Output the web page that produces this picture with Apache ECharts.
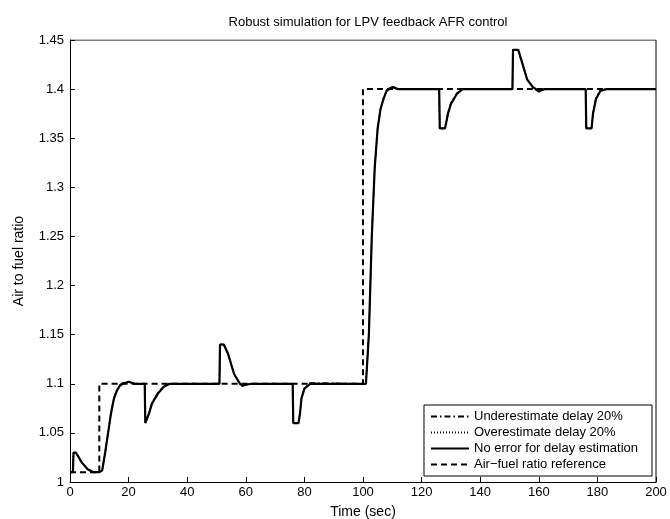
<!DOCTYPE html><html><head><meta charset="utf-8"><script src="https://cdn.jsdelivr.net/npm/echarts@6/dist/echarts.min.js"></script></head><body style="margin:0;background:#fff"><div id="c" style="width:670px;height:519px"></div><script>
const noErr=[[0,1.01],[1,1.01],[1.2,1.03],[2,1.03],[4,1.02],[6,1.013],[8,1.01],[10,1.01],[11,1.012],[12,1.03],[13,1.05],[14,1.07],[15,1.085],[16,1.093],[17,1.098],[18,1.1],[20,1.102],[22,1.1],[25.5,1.1],[25.7,1.06],[26.3,1.06],[27,1.07],[28,1.08],[30,1.09],[32,1.097],[34,1.1],[51,1.1],[51.2,1.14],[52.5,1.14],[54,1.13],[56,1.11],[58,1.1],[59,1.098],[60,1.099],[62,1.1],[76,1.1],[76.2,1.06],[78,1.06],[78.5,1.07],[79,1.085],[80,1.095],[82,1.1],[101,1.1],[102,1.15],[103,1.25],[104,1.32],[105,1.36],[106,1.38],[107,1.39],[108,1.398],[110,1.402],[112,1.4],[126,1.4],[126.2,1.36],[128,1.36],[129,1.375],[130,1.385],[132,1.395],[134,1.4],[151,1.4],[151.2,1.44],[153,1.44],[154,1.43],[156,1.41],[158,1.402],[160,1.398],[162,1.4],[176,1.4],[176.2,1.36],[178,1.36],[178.5,1.375],[179.5,1.39],[181,1.398],[183,1.4],[200,1.4]];
const under=[[0,1.01],[1,1.01],[1.2,1.03],[2,1.03],[4,1.02],[6,1.013],[8,1.01],[10,1.01],[11,1.012],[12,1.03],[13,1.05],[14,1.07],[15,1.086],[16,1.094],[17,1.099],[18,1.101],[20,1.102],[22,1.1],[25.5,1.1],[25.7,1.06],[26.3,1.06],[27,1.071],[28,1.081],[30,1.091],[32,1.098],[34,1.1],[51,1.1],[51.2,1.14],[52.5,1.14],[54,1.13],[56,1.11],[58,1.1],[59,1.097],[60,1.099],[62,1.1],[76,1.1],[76.2,1.06],[78,1.06],[78.5,1.07],[79,1.086],[80,1.096],[82,1.101],[101,1.1],[102,1.15],[103,1.25],[104,1.32],[105,1.36],[106,1.38],[107,1.391],[108,1.399],[110,1.403],[112,1.4],[126,1.4],[126.2,1.36],[128,1.36],[129,1.376],[130,1.386],[132,1.396],[134,1.4],[151,1.4],[151.2,1.44],[153,1.44],[154,1.43],[156,1.41],[158,1.401],[160,1.397],[162,1.4],[176,1.4],[176.2,1.36],[178,1.36],[178.5,1.376],[179.5,1.391],[181,1.399],[183,1.4],[200,1.4]];
const over=noErr;
const ref=[[0,1.01],[10,1.01],[10,1.1],[100,1.1],[100,1.4],[200,1.4]];
const names=['Underestimate delay 20%','Overestimate delay 20%','No error for delay estimation','Air\u2212fuel ratio reference'];
const ff='Liberation Sans, Arial, sans-serif';
const ls=(t,w)=>({color:'#000',width:w,type:t});
echarts.init(document.getElementById('c')).setOption({
animation:false,
title:{text:'Robust simulation for LPV feedback AFR control',left:363,top:11,textAlign:'center',textStyle:{fontFamily:ff,fontSize:13,fontWeight:'normal',color:'#000'}},
grid:{left:70,right:14,top:40,bottom:37,outerBoundsMode:'none',containLabel:false},
xAxis:{type:'value',min:0,max:200,interval:20,name:'Time (sec)',nameLocation:'middle',nameGap:23,nameTextStyle:{fontFamily:ff,fontSize:14,color:'#000'},axisLine:{lineStyle:{color:'#000'}},axisTick:{inside:true,length:5,lineStyle:{color:'#000'}},axisLabel:{fontFamily:ff,fontSize:13,color:'#000',margin:4},splitLine:{show:false}},
yAxis:{type:'value',min:1,max:1.45,interval:0.05,name:'Air to fuel ratio',nameLocation:'middle',nameGap:44,nameTextStyle:{fontFamily:ff,fontSize:14,color:'#000'},axisLine:{lineStyle:{color:'#000'}},axisTick:{inside:true,length:5,lineStyle:{color:'#000'}},axisLabel:{fontFamily:ff,fontSize:13,color:'#000',margin:6,formatter:v=>String(+v.toFixed(2))},splitLine:{show:false}},
legend:{orient:'vertical',right:18,bottom:43,backgroundColor:'#fff',borderColor:'#000',borderWidth:1,borderRadius:0,padding:[5,14,5,6],itemGap:3,itemWidth:38,itemHeight:12,itemStyle:{color:'transparent',borderWidth:0},textStyle:{fontFamily:ff,fontSize:13,color:'#000'},data:names},
series:[
{name:names[0],type:'line',data:under,symbol:'none',color:'#000',lineStyle:ls([6,3,1.5,3],1.3),z:3},
{name:names[1],type:'line',data:over,symbol:'none',color:'#000',lineStyle:ls([1,2],1.3),z:2},
{name:names[2],type:'line',data:noErr,symbol:'none',color:'#000',lineStyle:ls('solid',2.2),z:4},
{name:names[3],type:'line',data:ref,symbol:'none',color:'#000',lineStyle:ls([6,4],2),z:1},
{type:'line',data:[[0,1.45],[200,1.45],[200,1]],symbol:'none',silent:true,lineStyle:{color:'#000',width:1},z:0}
]});
</script></body></html>
